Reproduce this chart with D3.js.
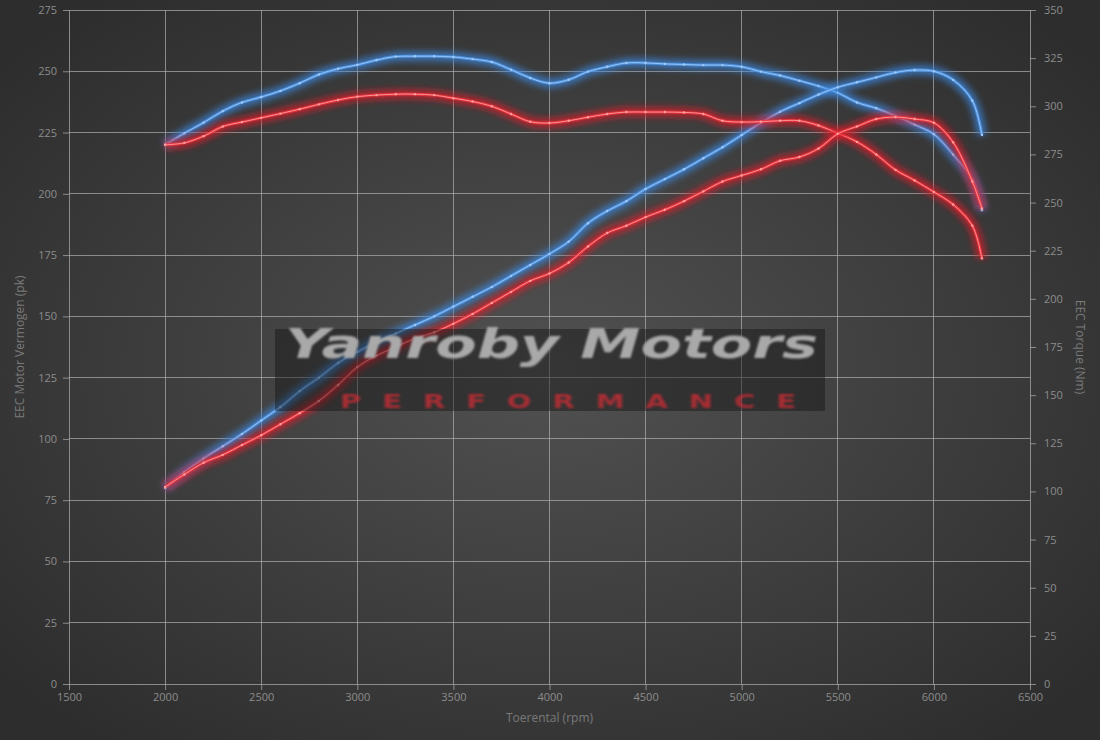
<!DOCTYPE html>
<html>
<head>
<meta charset="utf-8">
<script src="https://cdn.jsdelivr.net/npm/d3@7/dist/d3.min.js"></script>
<style>
	html, body { margin:0; padding:0; background:#2e2e2e; }
	svg { display:block; }
	.tick text { font-family:"Open Sans", sans-serif; font-size:11px; fill:#8c8c8c; }
	.axis-title { font-family:"Open Sans", sans-serif; font-size:12px; fill:#7a7a7a; }
</style>
</head>
<body>
<svg id="chart" width="1100" height="740"></svg>
<script>
// rpm points (shared by all four curves)
var rpm = [2000,2100,2200,2300,2400,2500,2600,2700,2800,2900,3000,3100,3200,3300,3400,3500,3600,3700,3800,3900,
	4000,4100,4200,4300,4400,4500,4600,4700,4800,4900,5000,5100,5200,5300,5400,5500,5600,5700,5800,5900,
	6000,6100,6200,6250];

// power (pk) - left axis
var powerTuned = [80,86.5,92,97,102,107.5,113,119.5,125,131,135.5,139.5,143,146.5,150,154,158,162,166.5,171,
	175.5,180.5,188,193,197,202,206,210,214.5,219,224,229,233.5,237,240.5,243.5,245.5,247.5,249.5,250.5,
	250,246.5,238,224];
var powerStock = [80.4,85.5,90.3,93.5,97.5,101.5,106,110.5,115.5,122,129.3,134,137.5,141,143.5,147,151,155.5,160,164.5,
	167.5,172,178.5,184,187,190.5,193.5,197,201,205,207.5,210,213.5,215,218.5,224.5,227.5,230.5,231.3,230.5,
	229,221,205,194];

// torque (Nm) - right axis
var torqueTuned = [280,286,291.5,297.5,302,304.8,308,312,316.5,319.5,321.5,324,325.8,326,326,325.6,324.5,323,319,314.7,
	312,313.8,318,320.5,322.5,322.5,322,321.7,321.4,321.4,320.5,318,316,313.3,310.5,307,302,299,295,290.5,
	285.5,275,262,246];
var torqueStock = [280,281,284.5,289.5,291.8,294,296.2,298.5,301,303.3,305,305.8,306.3,306.3,305.8,304.2,302.5,300,296,292,
	291.3,292.5,294.3,296,297,297,297,296.8,296,292.5,291.8,292,292.5,292.5,290,286,281.5,275,267,261.5,
	255.5,249,238,221];

var rpmTicks = [1500,2000,2500,3000,3500,4000,4500,5000,5500,6000,6500];
var powerTicks = [0,25,50,75,100,125,150,175,200,225,250,275];
var torqueTicks = [0,25,50,75,100,125,150,175,200,225,250,275,300,325,350];

var W = 1100, H = 740;
var margin = {left:69, right:70, top:10, bottom:56};

var svg = d3.select("#chart");
var defs = svg.append("defs");

// background: dark with a lighter middle
var bg = defs.append("radialGradient").attr("id","bgGrad")
	.attr("cx","50%").attr("cy","50%").attr("r","65%");
bg.append("stop").attr("offset","0%").attr("stop-color","#515151");
bg.append("stop").attr("offset","100%").attr("stop-color","#2d2d2d");

var glow = defs.append("filter").attr("id","glow")
	.attr("x","-10%").attr("y","-10%").attr("width","120%").attr("height","120%");
glow.append("feGaussianBlur").attr("stdDeviation",3.4);

var soft = defs.append("filter").attr("id","soft");
soft.append("feGaussianBlur").attr("stdDeviation",1);

svg.append("rect").attr("width",W).attr("height",H).attr("fill","url(#bgGrad)");

var x = d3.scaleLinear().domain([1500,6500]).range([margin.left, W - margin.right]);
var yL = d3.scaleLinear().domain([0,275]).range([H - margin.bottom, margin.top]);
var yR = d3.scaleLinear().domain([0,350]).range([H - margin.bottom, margin.top]);

// grid
var grid = svg.append("g").attr("class","grid");
grid.selectAll(".vline").data(rpmTicks).enter().append("line")
	.attr("x1",function(d){ return x(d); }).attr("x2",function(d){ return x(d); })
	.attr("y1",yL(0)).attr("y2",yL(275))
	.attr("stroke","#a8a8a8").attr("stroke-opacity",0.75).attr("shape-rendering","crispEdges");
grid.selectAll(".hline").data(powerTicks).enter().append("line")
	.attr("x1",x(1500)).attr("x2",x(6500))
	.attr("y1",function(d){ return yL(d); }).attr("y2",function(d){ return yL(d); })
	.attr("stroke","#a8a8a8").attr("stroke-opacity",0.75).attr("shape-rendering","crispEdges");

// axes
function styleAxis(g){
	g.select(".domain").remove();
	g.selectAll(".tick line").attr("stroke","#a8a8a8").attr("stroke-opacity",0.75);
}
svg.append("g").attr("transform","translate(0,"+yL(0)+")")
	.call(d3.axisBottom(x).tickValues(rpmTicks).tickSize(6).tickPadding(3).tickFormat(d3.format("d")))
	.call(styleAxis);
svg.append("g").attr("transform","translate("+x(1500)+",0)")
	.call(d3.axisLeft(yL).tickValues(powerTicks).tickSize(6).tickPadding(6))
	.call(styleAxis);
svg.append("g").attr("transform","translate("+x(6500)+",0)")
	.call(d3.axisRight(yR).tickValues(torqueTicks).tickSize(6).tickPadding(8))
	.call(styleAxis);

svg.append("text").attr("class","axis-title")
	.attr("x",(x(1500)+x(6500))/2).attr("y",722).attr("text-anchor","middle")
	.text("Toerental (rpm)");
svg.append("text").attr("class","axis-title")
	.attr("transform","translate(24,"+(yL(137.5))+") rotate(-90)").attr("text-anchor","middle")
	.text("EEC Motor Vermogen (pk)");
svg.append("text").attr("class","axis-title")
	.attr("transform","translate(1076,"+(yL(137.5))+") rotate(90)").attr("text-anchor","middle")
	.text("EEC Torque (Nm)");

// curves
var series = [
	{vals: torqueTuned, y: yR, glow:"#3a86de", mid:"#4f96e8", core:"#9fc8f5"},
	{vals: powerTuned, y: yL, glow:"#3a86de", mid:"#4f96e8", core:"#9fc8f5"},
	{vals: torqueStock, y: yR, glow:"#e01e2a", mid:"#ec3440", core:"#ff9c9c"},
	{vals: powerStock, y: yL, glow:"#e01e2a", mid:"#ec3440", core:"#ff9c9c"}
];

var lines = svg.append("g").attr("class","lines");

series.forEach(function(s){
	var pts = rpm.map(function(r,i){ return [r, s.vals[i]]; });
	var line = d3.line()
		.x(function(d){ return x(d[0]); })
		.y(function(d){ return s.y(d[1]); })
		.curve(d3.curveCatmullRom.alpha(0.5));

	var g = lines.append("g");
	g.append("path").datum(pts).attr("d",line)
		.attr("fill","none").attr("stroke",s.glow).attr("stroke-width",10)
		.attr("stroke-opacity",0.7).attr("filter","url(#glow)");
	g.append("path").datum(pts).attr("d",line)
		.attr("fill","none").attr("stroke",s.mid).attr("stroke-width",3).attr("stroke-opacity",0.85);
	g.append("path").datum(pts).attr("d",line)
		.attr("fill","none").attr("stroke",s.core).attr("stroke-width",0.9);
	g.selectAll("circle").data(pts).enter().append("circle")
		.attr("cx",function(d){ return x(d[0]); })
		.attr("cy",function(d){ return s.y(d[1]); })
		.attr("r",1.2).attr("fill",s.core);
});

// logo watermark
var logo = svg.append("g").attr("class","logo");
logo.append("rect").attr("x",275).attr("y",329).attr("width",550).attr("height",82)
	.attr("fill","#141414").attr("fill-opacity",0.45);
logo.append("text")
	.attr("x",285).attr("y",358)
	.attr("textLength",533).attr("lengthAdjust","spacingAndGlyphs")
	.attr("font-family","DejaVu Sans, sans-serif").attr("font-weight","bold").attr("font-style","italic")
	.attr("font-size",40).attr("fill","#a9a9a9").attr("filter","url(#soft)")
	.text("Yanroby Motors");
// wide letters: draw in a horizontally stretched group
logo.append("g").attr("transform","scale(1.45,1)")
	.append("text")
	.attr("x",340/1.45).attr("y",408)
	.attr("textLength",456/1.45).attr("lengthAdjust","spacing")
	.attr("font-family","DejaVu Sans, sans-serif").attr("font-weight","bold")
	.attr("font-size",20).attr("fill","#c42c36").attr("fill-opacity",0.8).attr("filter","url(#soft)")
	.text("PERFORMANCE");
</script>
</body>
</html>
